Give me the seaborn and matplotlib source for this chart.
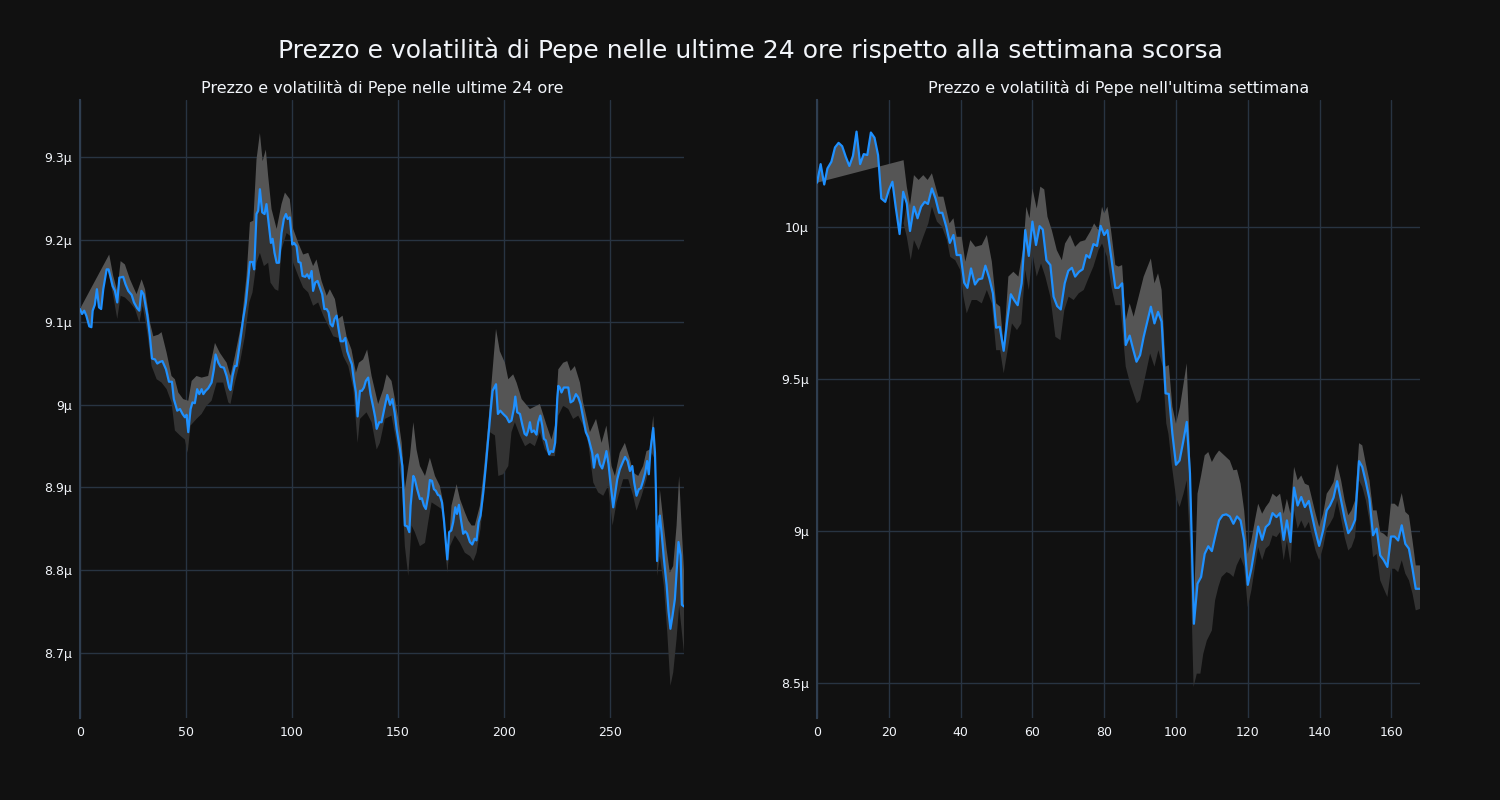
import numpy as np
import matplotlib
matplotlib.use("Agg")
import matplotlib.pyplot as plt
import seaborn as sns
from matplotlib.ticker import FuncFormatter

# --- Dati (valori in micro-unità) ---

# ultime 24 ore: prezzo
day_x = [0, 1, 2, 3, 4.4, 5.4, 6, 7, 8, 9, 10, 11, 12.6, 13.5, 14.5, 15.4, 16.5, 17.6, 18.6, 20.4,
         21.5, 22.8, 24.4, 25.5, 27, 28, 29, 30, 31.8, 33, 34, 35.4, 36.5, 37.7, 38.9, 40.6, 42, 43.4,
         44.3, 45.9, 47.2, 48.4, 49.5, 50.3, 51.1, 52.2, 53.1, 54.2, 55.3, 56.3, 57.4, 58.2, 59.3,
         60.5, 62.1, 63.2, 64, 65.3, 66.4, 67.9, 69.2, 70.4, 71, 72, 73.1, 73.9, 75.5, 77, 78.3, 79.4,
         80.2, 81.4, 82.2, 83.3, 84.1, 84.9, 86, 87.1, 88, 89, 90.1, 90.9, 91.8, 92.8, 93.9, 95.1,
         96.2, 97.2, 98, 99, 100.2, 101, 102.2, 103.1, 104.1, 105, 106.3, 107.2, 108.2, 109.3, 110,
         111, 112.1, 113.2, 114.3, 115.3, 116.4, 117.3, 118.2, 119.2, 120.1, 121.1, 122, 123, 124.2,
         125.2, 126.1, 127.4, 128.3, 129.2, 130.2, 131, 132.1, 133, 134, 134.9, 136, 137.1, 138.4,
         139.3, 140, 141.2, 142.3, 143.9, 145, 146.3, 147.4, 148.5, 149.4, 151, 152.1, 153.3, 154.4,
         155.4, 156, 157.3, 158, 159.1, 160.4, 161.3, 162.3, 163.2, 164.3, 165.1, 166.1, 167, 167.9,
         168.9, 169.8, 170.8, 171.7, 172.5, 173.3, 174.2, 175.2, 176.1, 177.1, 177.9, 178.8, 179.7,
         180.8, 181.8, 182.7, 184, 185.1, 186.2, 187.1, 188.1, 189, 190.3, 191.5, 192.6, 193.7,
         194.7, 196.3, 197.2, 198.3, 199.7, 201.3, 202.5, 203.6, 204.7, 205.4, 206.3, 207.6, 208.8,
         209.8, 210.7, 211.5, 212.3, 213.1, 214.2, 215.4, 216.2, 217.2, 218.1, 218.9, 219.8, 220.6,
         221.4, 222.2, 223.3, 224.2, 225.2, 225.7, 226.4, 227.2, 228.3, 230.4, 231.5, 232.7, 234,
         235.1, 236.2, 237.4, 238.7, 239.8, 241.7, 242.5, 243.4, 244.2, 245.3, 246.4, 247.4, 248.4,
         249.4, 250.3, 251.6, 252.4, 253.5, 254.7, 256, 257.2, 258.4, 259.5, 260.6, 261.5, 262.6,
         263.7, 264.6, 265.7, 266.7, 267.6, 268.4, 269.2, 270.5, 271.3, 271.7, 272.3, 273.1, 273.6,
         274.4, 275.5, 276.8, 277.7, 278.6, 279.6, 280.7, 281.5, 282.4, 283.4, 284, 285]
day_price = [9.116, 9.110, 9.114, 9.108, 9.095, 9.094, 9.114, 9.121, 9.140, 9.118, 9.116, 9.140,
             9.164, 9.164, 9.154, 9.144, 9.138, 9.124, 9.154, 9.155, 9.146, 9.138, 9.133, 9.124,
             9.117, 9.114, 9.138, 9.134, 9.108, 9.083, 9.056, 9.055, 9.050, 9.052, 9.053, 9.043,
             9.028, 9.028, 9.007, 8.993, 8.995, 8.989, 8.985, 8.988, 8.967, 8.995, 9.003, 9.002,
             9.019, 9.013, 9.019, 9.013, 9.017, 9.020, 9.027, 9.043, 9.061, 9.051, 9.046, 9.045,
             9.035, 9.021, 9.018, 9.035, 9.047, 9.047, 9.075, 9.104, 9.124, 9.152, 9.173, 9.173,
             9.164, 9.231, 9.235, 9.261, 9.233, 9.231, 9.243, 9.221, 9.196, 9.201, 9.184, 9.172,
             9.172, 9.208, 9.225, 9.231, 9.225, 9.227, 9.194, 9.196, 9.192, 9.173, 9.172, 9.156,
             9.155, 9.158, 9.153, 9.162, 9.138, 9.148, 9.150, 9.142, 9.134, 9.116, 9.116, 9.112,
             9.098, 9.095, 9.104, 9.108, 9.092, 9.077, 9.077, 9.081, 9.065, 9.055, 9.049, 9.031,
             9.015, 8.986, 9.017, 9.017, 9.021, 9.029, 9.033, 9.013, 8.997, 8.985, 8.971, 8.979,
             8.979, 8.999, 9.012, 9.000, 9.007, 8.990, 8.971, 8.946, 8.926, 8.854, 8.853, 8.846,
             8.878, 8.914, 8.910, 8.898, 8.886, 8.887, 8.878, 8.874, 8.890, 8.909, 8.908, 8.898,
             8.896, 8.891, 8.890, 8.882, 8.862, 8.837, 8.813, 8.846, 8.848, 8.858, 8.876, 8.868,
             8.879, 8.862, 8.844, 8.847, 8.844, 8.834, 8.831, 8.838, 8.836, 8.858, 8.866, 8.894,
             8.926, 8.958, 8.991, 9.017, 9.025, 8.989, 8.993, 8.989, 8.985, 8.979, 8.981, 8.995,
             9.010, 8.991, 8.989, 8.975, 8.965, 8.963, 8.969, 8.979, 8.967, 8.969, 8.964, 8.979,
             8.987, 8.975, 8.959, 8.957, 8.948, 8.940, 8.944, 8.943, 8.954, 9.007, 9.023, 9.021,
             9.015, 9.021, 9.021, 9.003, 9.005, 9.013, 9.009, 9.001, 8.985, 8.967, 8.961, 8.942,
             8.924, 8.938, 8.940, 8.928, 8.923, 8.932, 8.944, 8.928, 8.906, 8.876, 8.890, 8.910,
             8.922, 8.930, 8.937, 8.932, 8.920, 8.926, 8.906, 8.890, 8.898, 8.899, 8.908, 8.918,
             8.932, 8.916, 8.946, 8.972, 8.942, 8.902, 8.811, 8.854, 8.866, 8.846, 8.814, 8.782,
             8.750, 8.729, 8.745, 8.765, 8.797, 8.834, 8.818, 8.758, 8.756]

# ultime 24 ore: banda di volatilità
day_up_x = [13.8, 15.7, 17.6, 19.2, 21.2, 23.6, 26.7, 29.1, 30.7, 33, 34.6, 37, 38.5, 40.9, 43.2,
            44.8, 46.4, 48.7, 51.1, 52.7, 55, 57.4, 60.5, 63.7, 66, 69.2, 71, 73.1, 76.3, 78.6,
            80.2, 81.8, 83.3, 84.9, 86.2, 87.7, 88.8, 90.4, 92.8, 95.1, 96.7, 99, 100.6, 103, 105.3,
            107.7, 110, 111.6, 114, 116.4, 117.9, 120.3, 121.9, 123.9, 125.8, 128.1, 130.2, 131.6,
            133.6, 135.5, 137.6, 140.7, 143.1, 144.7, 147, 148.6, 150.2, 151.8, 153.3, 155.7, 157.3,
            158.8, 160.4, 162.8, 165.1, 167.5, 169.8, 171.4, 173.3, 175.3, 177.7, 179.3, 181.6,
            183.2, 184.8, 186.3, 188.7, 190.3, 192.6, 194.2, 196.3, 198.1, 200.5, 202.1, 204.4, 206,
            208.4, 212.3, 217, 220.2, 222.5, 224.1, 225.7, 228, 229.9, 231.5, 233.5, 235.9, 237.4,
            240.6, 243.5, 246.1, 248.4, 250.8, 252.4, 254.7, 257.1, 259.5, 261, 263.4, 265.7, 267.3,
            268.9, 270.5, 271.7, 272.3, 273.6, 275.5, 276.8, 278.3, 279.9, 281.5, 282.7, 284, 285]
day_up = [9.182, 9.156, 9.138, 9.174, 9.170, 9.152, 9.134, 9.152, 9.140, 9.100, 9.083, 9.085,
          9.088, 9.063, 9.035, 9.031, 9.015, 9.007, 9.005, 9.029, 9.035, 9.033, 9.035, 9.075,
          9.063, 9.051, 9.035, 9.059, 9.100, 9.156, 9.221, 9.223, 9.297, 9.329, 9.295, 9.309,
          9.277, 9.237, 9.213, 9.243, 9.257, 9.249, 9.213, 9.196, 9.182, 9.184, 9.168, 9.176,
          9.150, 9.132, 9.140, 9.128, 9.104, 9.108, 9.083, 9.067, 9.039, 9.051, 9.055, 9.067,
          9.035, 9.001, 9.019, 9.037, 9.029, 9.007, 8.983, 8.954, 8.898, 8.938, 8.979, 8.946,
          8.926, 8.914, 8.936, 8.914, 8.902, 8.882, 8.801, 8.878, 8.904, 8.886, 8.870, 8.860,
          8.854, 8.854, 8.878, 8.914, 8.975, 9.027, 9.092, 9.065, 9.051, 9.031, 9.037, 9.027,
          9.007, 8.995, 9.001, 8.975, 8.958, 8.975, 9.043, 9.051, 9.053, 9.041, 9.047, 9.027,
          9.003, 8.967, 8.983, 8.954, 8.975, 8.926, 8.914, 8.942, 8.954, 8.934, 8.918, 8.914,
          8.926, 8.944, 8.946, 8.987, 8.906, 8.809, 8.898, 8.854, 8.825, 8.797, 8.805, 8.854,
          8.914, 8.846, 8.800]
day_lo_x = [13.8, 15.7, 17.6, 19.2, 21.2, 23.6, 26, 28, 29.6, 31.8, 33.8, 36.2, 38.5, 40.9, 43.2,
            44.8, 47.2, 49.5, 50.8, 52.2, 55, 57.4, 59.7, 62.1, 64.5, 67.6, 70, 71, 73.1, 75.5,
            77.8, 79.9, 81.4, 83.3, 84.9, 86.8, 88.8, 89.9, 92, 93.6, 95.1, 97.5, 99.4, 100.6, 103,
            105.3, 107.7, 110, 112.4, 114.8, 117.1, 119.5, 121.9, 124.2, 126.6, 129, 131, 132.1,
            135.2, 137.6, 140, 141.5, 143.9, 147, 149.4, 151.8, 153.3, 154.9, 156.5, 158, 160.4,
            162.8, 164.3, 165.9, 168.3, 170.6, 172.2, 173.3, 174.6, 176.9, 179.3, 181.6, 184, 185.6,
            187.1, 189, 191.1, 193.4, 195.8, 197.4, 199.7, 202.1, 203.6, 205.2, 207.6, 210, 212.3,
            214.6, 217, 219.4, 221.7, 224.1, 225.7, 228, 230.4, 232.7, 235.1, 237.4, 239.8, 242.2,
            244.5, 246.9, 249.2, 251.3, 253.2, 256.3, 258.7, 261, 262.6, 265, 267.3, 269.7, 271.3,
            272.3, 273.6, 275.5, 277.1, 278.6, 279.9, 281.5, 282.7, 284, 285]
day_lo = [9.156, 9.132, 9.104, 9.132, 9.130, 9.124, 9.116, 9.100, 9.120, 9.087, 9.047, 9.031,
          9.027, 9.019, 9.003, 8.969, 8.963, 8.958, 8.942, 8.975, 8.983, 8.989, 8.999, 9.005,
          9.027, 9.027, 9.003, 9.001, 9.027, 9.051, 9.083, 9.124, 9.136, 9.172, 9.184, 9.168,
          9.172, 9.148, 9.140, 9.138, 9.188, 9.208, 9.204, 9.172, 9.156, 9.142, 9.136, 9.120,
          9.124, 9.108, 9.096, 9.083, 9.081, 9.059, 9.047, 9.019, 8.954, 8.983, 8.991, 8.979,
          8.946, 8.954, 8.983, 8.987, 8.954, 8.906, 8.829, 8.793, 8.854, 8.846, 8.829, 8.833,
          8.858, 8.882, 8.878, 8.874, 8.837, 8.797, 8.829, 8.842, 8.833, 8.821, 8.817, 8.811,
          8.821, 8.850, 8.906, 8.967, 8.963, 8.914, 8.916, 8.926, 8.967, 8.979, 8.963, 8.950,
          8.954, 8.950, 8.967, 8.946, 8.938, 8.938, 8.987, 8.999, 8.995, 8.983, 8.987, 8.975,
          8.954, 8.906, 8.894, 8.890, 8.902, 8.854, 8.882, 8.910, 8.910, 8.890, 8.872, 8.890,
          8.910, 8.942, 8.934, 8.793, 8.817, 8.781, 8.725, 8.660, 8.676, 8.717, 8.757, 8.725,
          8.700]

# ultima settimana: prezzo
week_x = [0, 1, 2, 2.9, 4, 5, 6, 7, 8, 9, 10, 11, 12, 13, 14, 15, 16, 17, 17.9, 19, 20, 21, 21.9,
          23, 24, 25, 25.9, 27, 28, 29, 30, 30.9, 32, 33, 34, 34.9, 36, 37, 38, 38.9, 40, 41, 41.9,
          42.9, 44, 45, 46, 46.9, 48, 49, 49.9, 50.9, 52, 53, 54, 54.9, 55.9, 57, 58, 59, 60, 61,
          62, 62.9, 63.9, 65, 65.9, 66.9, 67.9, 69, 70, 71, 71.9, 73, 74, 75, 75.9, 77, 78, 79, 80,
          80.9, 82, 83.1, 84, 85, 86, 87.1, 88, 89, 90, 91, 92.1, 93, 94, 95, 96, 97.1, 98, 99, 100,
          101, 102, 103, 103.9, 104.4, 105, 106, 107, 108, 109, 110, 111, 112, 113, 114, 115, 116,
          117, 118, 119, 120, 121, 122, 122.9, 124, 125, 126, 126.9, 128, 129, 130, 130.9, 131.9,
          132.9, 133.9, 134.9, 135.9, 137, 138, 138.9, 139.9, 141, 142, 142.9, 143.9, 144.9, 146,
          147, 148, 148.9, 149.9, 151, 151.9, 152.9, 153.9, 154.9, 155.9, 156.9, 157.9, 158.9,
          159.9, 160.9, 161.9, 162.9, 163.9, 164.9, 165.9, 166.8, 168]
week_price = [10.146, 10.207, 10.140, 10.193, 10.215, 10.262, 10.277, 10.266, 10.231, 10.201,
              10.234, 10.314, 10.207, 10.240, 10.237, 10.311, 10.294, 10.237, 10.094, 10.083,
              10.122, 10.149, 10.067, 9.977, 10.116, 10.078, 9.987, 10.067, 10.029, 10.067,
              10.083, 10.076, 10.127, 10.094, 10.047, 10.047, 10.001, 9.948, 9.974, 9.908, 9.908,
              9.817, 9.800, 9.864, 9.811, 9.828, 9.831, 9.873, 9.831, 9.782, 9.669, 9.672, 9.593,
              9.694, 9.779, 9.760, 9.743, 9.815, 9.990, 9.905, 10.018, 9.941, 10.003, 9.992,
              9.891, 9.875, 9.771, 9.740, 9.729, 9.815, 9.856, 9.866, 9.837, 9.853, 9.861, 9.908,
              9.899, 9.944, 9.938, 10.004, 9.974, 9.990, 9.897, 9.800, 9.800, 9.815, 9.612, 9.643,
              9.601, 9.557, 9.579, 9.639, 9.694, 9.738, 9.683, 9.721, 9.689, 9.453, 9.451, 9.320,
              9.218, 9.232, 9.293, 9.359, 9.189, 8.969, 8.695, 8.827, 8.849, 8.925, 8.950, 8.934,
              8.986, 9.035, 9.052, 9.055, 9.048, 9.024, 9.048, 9.035, 8.969, 8.823, 8.876, 8.947,
              9.015, 8.971, 9.013, 9.024, 9.059, 9.046, 9.059, 8.971, 9.035, 8.964, 9.143, 9.084,
              9.112, 9.079, 9.099, 9.046, 8.997, 8.951, 9.002, 9.068, 9.084, 9.110, 9.164, 9.101,
              9.041, 8.993, 9.008, 9.037, 9.230, 9.211, 9.161, 9.106, 8.986, 9.008, 8.920, 8.904,
              8.882, 8.982, 8.982, 8.969, 9.019, 8.958, 8.942, 8.876, 8.810, 8.810]

# ultima settimana: banda di volatilità
week_up_x = [24.1, 25, 25.9, 27, 28.3, 29.6, 30.8, 32, 33.8, 35.2, 36.9, 38, 38.9, 40.3, 41.3, 42.7,
             44.1, 45.9, 47.3, 48.7, 49.9, 51, 52, 53.3, 54.7, 56.1, 57.5, 58.3, 59.2, 60, 61.2,
             62.2, 63.3, 64.2, 65.4, 66.8, 68.2, 69.1, 70.5, 71.9, 73.3, 74.7, 76.1, 77.2, 78.4,
             79.4, 80, 80.9, 81.9, 83.1, 84, 85, 86, 87.1, 88.2, 89.6, 91, 92.1, 93, 94, 95, 96,
             97.1, 98, 99, 100, 101.1, 103, 103.9, 105, 106, 107, 108, 109, 110, 111, 112, 113, 114,
             115, 116, 117, 118, 119, 120, 121, 122, 122.9, 124, 125, 126, 126.9, 128, 129, 130,
             130.9, 131.9, 132.9, 133.9, 134.9, 135.9, 137, 138, 138.9, 139.9, 141, 142, 142.9,
             143.9, 144.9, 146, 147, 148, 148.9, 149.9, 151, 151.9, 152.9, 153.9, 154.9, 155.9,
             156.9, 157.9, 158.9, 159.9, 160.9, 161.9, 162.9, 163.9, 164.9, 165.9, 166.8, 168]
week_up = [10.220, 10.133, 10.072, 10.171, 10.155, 10.171, 10.155, 10.177, 10.100, 10.100, 10.012,
           10.029, 9.968, 9.968, 9.886, 9.957, 9.935, 9.941, 9.974, 9.886, 9.749, 9.738, 9.606,
           9.837, 9.853, 9.837, 9.935, 10.067, 10.029, 10.127, 10.061, 10.133, 10.124, 10.034,
           9.990, 9.924, 9.891, 9.946, 9.974, 9.935, 9.952, 9.957, 9.985, 10.012, 9.990, 10.067,
           10.045, 10.067, 9.990, 9.875, 9.870, 9.875, 9.694, 9.749, 9.705, 9.771, 9.837, 9.870,
           9.897, 9.815, 9.848, 9.793, 9.541, 9.546, 9.409, 9.353, 9.408, 9.552, 9.254, 8.750,
           9.123, 9.183, 9.249, 9.260, 9.227, 9.249, 9.265, 9.254, 9.243, 9.232, 9.200, 9.202,
           9.156, 9.068, 8.925, 8.969, 9.035, 9.090, 9.057, 9.079, 9.095, 9.123, 9.112, 9.123,
           9.057, 9.106, 9.057, 9.211, 9.167, 9.183, 9.156, 9.150, 9.101, 9.057, 9.013, 9.057,
           9.123, 9.139, 9.161, 9.221, 9.167, 9.101, 9.052, 9.068, 9.101, 9.289, 9.282, 9.221,
           9.167, 9.068, 9.068, 8.997, 8.991, 8.980, 9.090, 9.090, 9.079, 9.125, 9.063, 9.052,
           8.969, 8.887, 8.887]
week_lo_x = [24.1, 25, 26.1, 27, 28.3, 29.6, 31, 32, 33.4, 34.8, 36.2, 37.1, 38.5, 39.9, 40.8, 41.7,
             43.1, 44.5, 45.9, 47.3, 48.7, 49.9, 51, 52, 53.1, 54.3, 55.7, 56.9, 58, 59, 60, 61.2,
             62.4, 63.6, 65, 66.4, 67.8, 68.9, 70.1, 71.5, 72.9, 74.3, 75.6, 77, 78.4, 79.4, 80.8,
             82, 83.1, 84.5, 86, 87.2, 89.1, 90, 91.4, 92.8, 94, 95.1, 96.3, 97.3, 97.9, 98.9, 100,
             101, 102.1, 103, 103.9, 104.9, 105.8, 106.8, 107.6, 108.6, 110, 110.9, 111.8, 112.7,
             114.1, 115, 116, 116.9, 118, 119, 120, 121, 122, 122.9, 124, 125, 126, 126.9, 128, 129,
             130, 130.9, 131.9, 132.9, 133.9, 134.9, 135.9, 137, 138, 138.9, 139.9, 141, 142, 142.9,
             143.9, 144.9, 146, 147, 148, 148.9, 149.9, 151, 151.9, 152.9, 153.9, 154.9, 155.9,
             156.9, 157.9, 158.9, 159.9, 160.9, 161.9, 162.9, 163.9, 164.9, 165.9, 166.8, 168]
week_lo = [10.012, 9.968, 9.891, 9.957, 9.924, 9.968, 10.012, 10.067, 10.018, 10.001, 9.957, 9.902,
           9.891, 9.859, 9.771, 9.716, 9.760, 9.760, 9.749, 9.793, 9.749, 9.595, 9.595, 9.519,
           9.595, 9.683, 9.661, 9.683, 9.859, 9.793, 9.913, 9.837, 9.880, 9.837, 9.771, 9.639,
           9.628, 9.727, 9.771, 9.760, 9.782, 9.793, 9.831, 9.870, 9.924, 9.946, 9.902, 9.804,
           9.743, 9.743, 9.541, 9.486, 9.420, 9.431, 9.507, 9.584, 9.541, 9.595, 9.541, 9.354,
           9.320, 9.211, 9.112, 9.079, 9.123, 9.167, 8.958, 8.487, 8.531, 8.531, 8.596, 8.640,
           8.673, 8.772, 8.816, 8.849, 8.865, 8.860, 8.849, 8.887, 8.914, 8.882, 8.750, 8.805,
           8.882, 8.947, 8.904, 8.942, 8.953, 8.986, 8.980, 8.997, 8.904, 8.969, 8.893, 9.068,
           9.008, 9.035, 9.008, 9.030, 8.980, 8.936, 8.904, 8.947, 9.008, 9.024, 9.046, 9.101,
           9.041, 8.980, 8.936, 8.947, 8.980, 9.167, 9.145, 9.101, 9.035, 8.914, 8.925, 8.838,
           8.810, 8.783, 8.876, 8.876, 8.865, 8.904, 8.860, 8.838, 8.794, 8.739, 8.744]

day_ticks = [8.7, 8.8, 8.9, 9.0, 9.1, 9.2, 9.3]
week_ticks = [8.5, 9.0, 9.5, 10.0]

# --- Stile ---
sns.set_theme(style="dark")
BG = "#111111"
GRID = "#283442"
TXT = "#f2f5fa"
plt.rcParams['font.family'] = ['DejaVu Sans']
plt.rcParams['figure.facecolor'] = BG
plt.rcParams['axes.facecolor'] = BG


def disegna(ax, x, price, ux, up, lx, lo, xlim, ylim, yticks, xticks, titolo):
    x = np.asarray(x)
    price = np.asarray(price)
    # banda superiore (più chiara): dal prezzo al limite alto
    ax.fill(np.concatenate([x, np.asarray(ux)[::-1]]),
            np.concatenate([price, np.asarray(up)[::-1]]),
            color="#555555", linewidth=0, zorder=1)
    # banda inferiore (più scura): dal limite basso al prezzo
    m = x >= lx[0]
    ax.fill(np.concatenate([x[m], np.asarray(lx)[::-1]]),
            np.concatenate([price[m], np.asarray(lo)[::-1]]),
            color="#333333", linewidth=0, zorder=1)
    sns.lineplot(x=x, y=price, ax=ax, color="#1e90ff", linewidth=1.6, zorder=3)

    ax.set_xlim(*xlim)
    ax.set_ylim(*ylim)
    ax.set_xticks(xticks)
    ax.set_yticks(yticks)
    ax.yaxis.set_major_formatter(FuncFormatter(lambda v, p: f"{round(v, 3):g}μ"))
    ax.grid(True, color=GRID, linewidth=1)
    ax.set_axisbelow(True)
    for s in ["top", "right", "bottom"]:
        ax.spines[s].set_visible(False)
    ax.spines["left"].set_color("#2f3e50")
    ax.spines["left"].set_linewidth(1.5)
    ax.tick_params(colors=TXT, labelsize=9, length=0, pad=6)
    ax.set_xlabel("")
    ax.set_ylabel("")
    ax.set_title(titolo, color=TXT, fontsize=11.5, pad=5)


fig = plt.figure(figsize=(15, 8), dpi=100)
ax1 = fig.add_axes([0.0533, 0.1025, 0.4027, 0.7725])
ax2 = fig.add_axes([0.5447, 0.1025, 0.402, 0.7725])

disegna(ax1, day_x, day_price, day_up_x, day_up, day_lo_x, day_lo,
        (0, 285), (8.621, 9.369), day_ticks, [0, 50, 100, 150, 200, 250],
        "Prezzo e volatilità di Pepe nelle ultime 24 ore")
disegna(ax2, week_x, week_price, week_up_x, week_up, week_lo_x, week_lo,
        (0, 168), (8.385, 10.418), week_ticks, [0, 20, 40, 60, 80, 100, 120, 140, 160],
        "Prezzo e volatilità di Pepe nell'ultima settimana")

fig.text(0.5, 0.9375, "Prezzo e volatilità di Pepe nelle ultime 24 ore rispetto alla settimana scorsa",
         ha="center", va="center", color=TXT, fontsize=18)

fig.savefig("out.png", dpi=100, facecolor=BG)
